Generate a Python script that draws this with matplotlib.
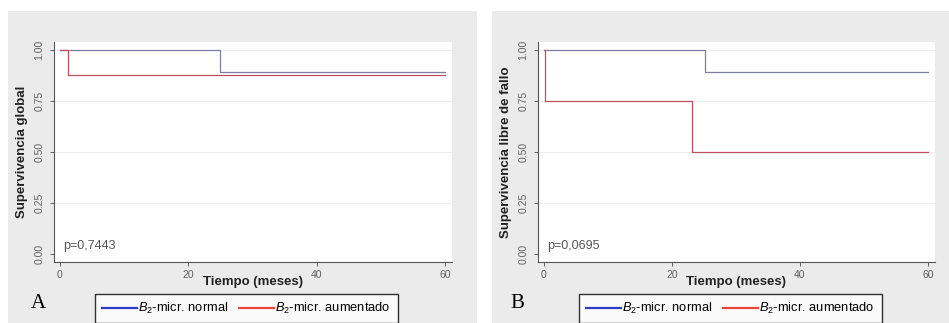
import matplotlib
matplotlib.use("Agg")
import matplotlib.pyplot as plt
from matplotlib.lines import Line2D
from matplotlib.patches import Rectangle

plt.rcParams['font.family'] = ['Liberation Sans', 'DejaVu Sans']
plt.rcParams['mathtext.fontset'] = 'custom'
plt.rcParams['mathtext.rm'] = 'Liberation Sans'
plt.rcParams['mathtext.it'] = 'Liberation Sans:italic'

# Kaplan-Meier step curves (time in months, survival probability)
a_normal_t = [0, 25, 60]
a_normal_s = [1.0, 0.889, 0.889]
a_aum_t = [0, 1.3, 60]
a_aum_s = [1.0, 0.875, 0.875]

b_normal_t = [0, 25.2, 60]
b_normal_s = [1.0, 0.889, 0.889]
b_aum_t = [0, 0.2, 23.1, 60]
b_aum_s = [1.0, 0.75, 0.50, 0.50]

x_ticks = [0, 20, 40, 60]
y_ticks = [0.00, 0.25, 0.50, 0.75, 1.00]
y_tick_labels = ["0.00", "0.25", "0.50", "0.75", "1.00"]

panels = [
    dict(letter="A", ylabel="Supervivencia global", p="p=0,7443",
         normal=(a_normal_t, a_normal_s), aum=(a_aum_t, a_aum_s)),
    dict(letter="B", ylabel="Supervivencia libre de fallo", p="p=0,0695",
         normal=(b_normal_t, b_normal_s), aum=(b_aum_t, b_aum_s)),
]
legend_labels = [r"$\mathit{B}_{\mathrm{2}}$-micr. normal",
                 r"$\mathit{B}_{\mathrm{2}}$-micr. aumentado"]

W, H = 949, 323
fig = plt.figure(figsize=(W / 100, H / 100), dpi=100, facecolor="white")

def fx(px):
    return px / W

def fy(py):
    return 1 - py / H

panel_bg = [(8, 477), (492, 960)]
axes_x = [(54, 452), (538, 935)]
legend_cx = [246.5, 730.5]
letter_x = [38, 517]

bg_color = "#ebebeb"
normal_line = "#7e7ea2"
aum_line = "#c0505e"
normal_leg = "#2b3cc4"
aum_leg = "#e8483c"

for i, pnl in enumerate(panels):
    x0, x1 = panel_bg[i]
    fig.patches.append(Rectangle((fx(x0), 0), fx(x1 - x0), fy(11), transform=fig.transFigure,
                                 facecolor=bg_color, edgecolor="none", zorder=-5))
    ax0, ax1 = axes_x[i]
    ax = fig.add_axes([fx(ax0), fy(262), fx(ax1 - ax0), (262 - 42) / H])
    ax.set_zorder(2)
    ax.set_facecolor("white")
    ax.set_xlim(-0.93, 61.1)
    ax.set_ylim(-0.039, 1.038)
    for y in y_ticks[1:]:
        ax.axhline(y, color="#eeeeee", lw=0.8, zorder=1)
    ax.step(pnl["normal"][0], pnl["normal"][1], where="post", color=normal_line, lw=0.9, zorder=3)
    ax.step(pnl["aum"][0], pnl["aum"][1], where="post", color=aum_line, lw=0.9, zorder=4)
    for s in ["top", "right"]:
        ax.spines[s].set_visible(False)
    for s in ["left", "bottom"]:
        ax.spines[s].set_color("#555555")
        ax.spines[s].set_linewidth(0.8)
    ax.set_xticks(x_ticks)
    ax.set_yticks(y_ticks)
    ax.set_yticklabels(y_tick_labels, rotation=90, va="center")
    ax.tick_params(axis="both", colors="#606060", labelsize=7.5, length=3, width=0.7)
    ax.tick_params(axis="x", pad=3)
    ax.tick_params(axis="y", pad=4)
    ax.set_xlabel("Tiempo (meses)", fontsize=9.5, fontweight="bold", color="#222222")
    ax.xaxis.set_label_coords(0.5, -0.091)
    ax.xaxis.label.set_va("center")
    ax.set_ylabel(pnl["ylabel"], fontsize=9.5, fontweight="bold", color="#222222")
    ax.yaxis.set_label_coords(-32 / (ax1 - ax0), 0.5)
    ax.yaxis.label.set_va("center")
    ax.text(0.5, 0.04, pnl["p"], fontsize=9, color="#555555", va="center", ha="left")

    fig.text(fx(letter_x[i]), fy(303), pnl["letter"], family="Liberation Serif",
             fontsize=15, ha="center", va="center", color="black")

    handles = [Line2D([], [], color=normal_leg, lw=1.6),
               Line2D([], [], color=aum_leg, lw=1.6)]
    leg = fig.legend(handles, legend_labels, loc="upper center",
                     bbox_to_anchor=(fx(legend_cx[i]), fy(294)), ncol=2,
                     fontsize=9.3, frameon=True, fancybox=False, edgecolor="black",
                     handlelength=2.7, handletextpad=0.1, columnspacing=0.8,
                     borderpad=0.55, borderaxespad=0)
    leg.get_frame().set_linewidth(1.0)
    leg.set_zorder(3)

fig.savefig("out.png", dpi=100, facecolor="white")
